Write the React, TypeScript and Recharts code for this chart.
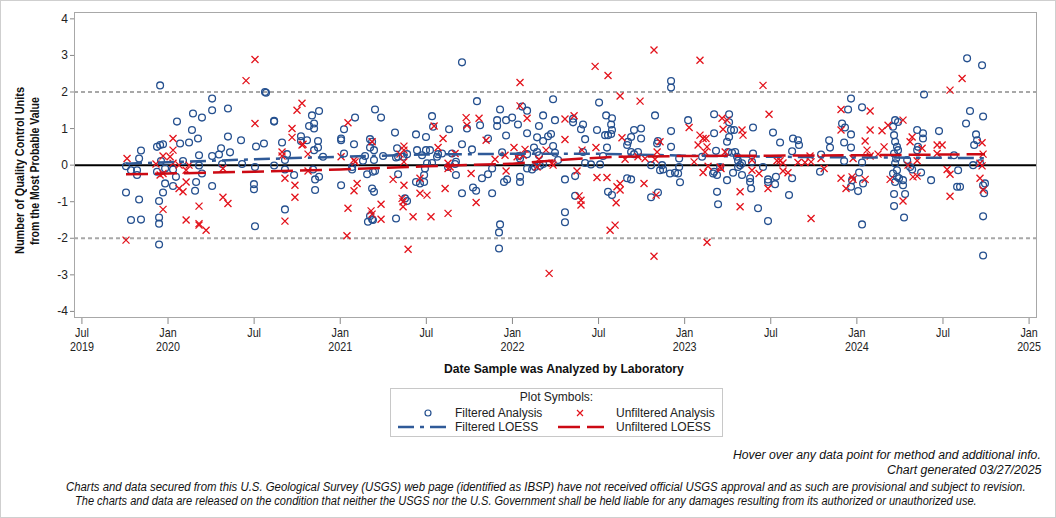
import { useLayoutEffect, useRef, useState } from "react";
import { ScatterChart, Scatter, XAxis, YAxis, ReferenceLine } from "recharts";

// dates are decimal years (Jul 2019 = 2019.5), values are QC units from the MPV
const filteredPoints: [number, number][] = [
  [2019.954,2.18],[2020.563,2.0],[2020.569,1.98],[2020.616,1.21],[2020.616,1.19],[2020.256,1.82],[2020.145,1.41],[2020.197,1.3],[2020.256,1.5],[2020.348,1.55],
  [2020.052,1.19],[2020.139,0.96],[2020.174,0.73],[2020.348,0.78],[2020.424,0.68],[2020.07,0.59],[2020.122,0.62],[2019.936,0.5],[2019.954,0.55],[2019.971,0.57],
  [2019.843,0.4],[2019.832,0.18],[2020.511,0.51],[2020.557,0.59],[2020.308,0.46],[2020.36,0.35],[2020.296,0.29],[2020.256,0.25],[2020.18,0.27],[2020.087,0.11],
  [2019.959,0.11],[2019.756,-0.03],[2019.785,-0.14],[2019.82,-0.14],[2019.82,-0.27],[2019.936,-0.18],[2019.983,-0.09],[2020.029,-0.12],[2020.046,-0.32],[2020.18,-0.01],
  [2020.197,-0.23],[2020.314,0.03],[2020.43,0.03],[2020.505,-0.05],[2020.616,-0.01],[2019.983,-0.5],[2020.029,-0.57],[2020.163,-0.46],[2020.157,-0.7],[2020.256,-0.57],
  [2019.971,-0.75],[2019.756,-0.75],[2019.832,-0.94],[2019.948,-0.98],[2020.499,-0.52],[2020.499,-0.66],[2019.785,-1.5],[2019.843,-1.49],[2019.948,-1.43],[2019.948,-1.6],
  [2020.505,-1.67],[2019.948,-2.17],
  [2020.877,1.48],[2020.836,1.36],[2020.848,1.14],[2020.819,1.07],[2020.848,1.0],[2020.772,0.79],[2020.807,0.68],[2020.772,0.66],[2020.871,0.66],[2020.871,0.48],
  [2020.848,0.41],[2020.662,0.62],[2020.691,0.3],[2020.679,0.14],[2020.679,-0.12],[2020.732,-0.27],[2020.842,-0.12],[2020.854,-0.39],[2020.877,-0.32],[2020.854,-0.68],
  [2020.9,0.23],[2020.679,-1.21],[2021.086,1.3],[2021.022,0.98],[2021.005,0.73],[2021.005,0.68],[2021.202,1.52],[2021.237,1.3],[2021.08,0.57],[2021.022,0.32],
  [2021.005,-0.55],[2021.144,0.25],[2021.132,0.12],[2021.069,-0.05],[2021.069,-0.12],[2021.173,0.71],[2021.185,0.64],[2021.173,0.48],[2021.196,0.41],[2021.196,0.14],
  [2021.156,-0.25],[2021.19,-0.18],[2021.202,-0.16],[2021.185,-0.64],[2021.196,-0.73],[2021.173,-1.39],[2021.185,-1.48],[2021.161,-1.55],[2021.19,-1.5],[2021.249,0.25],
  [2021.318,0.89],[2021.33,0.46],[2021.336,0.23],[2021.324,0.21],[2021.336,-0.25],[2021.365,0.23],[2021.388,0.3],[2021.376,-0.91],[2021.388,-0.98],[2021.324,-1.46],
  [2021.44,0.84],[2021.446,0.41],[2021.475,0.27],[2021.498,0.41],[2021.498,0.77],[2021.533,1.34],[2021.539,1.05],[2021.521,0.41],[2021.562,0.23],[2021.568,0.3],
  [2021.533,0.06],[2021.504,0.05],[2021.492,-0.09],[2021.487,-0.27],[2021.44,-0.46],[2021.463,-0.5],[2021.487,-0.46],[2021.591,0.32],
  [2021.707,2.81],[2021.794,1.75],[2021.632,0.98],[2021.736,1.0],[2021.812,1.09],[2021.707,0.57],[2021.765,0.43],[2021.649,0.32],[2021.672,0.09],[2021.667,0.03],
  [2021.672,-0.27],[2021.626,-0.05],[2021.707,-0.77],[2021.771,-0.61],[2021.789,-0.7],[2021.823,-0.36],[2021.858,-0.25],[2021.858,0.73],[2021.882,-0.09],[2021.882,-0.77],
  [2021.928,1.52],[2021.911,1.23],[2021.911,1.07],[2021.963,1.23],[2021.998,1.3],[2022.032,1.11],[2022.056,1.6],[2022.085,1.49],[2022.085,0.87],[2021.963,0.81],
  [2021.94,0.35],[2021.951,-0.46],[2021.969,-0.39],[2022.044,-0.32],[2022.044,-0.46],[2021.928,-1.62],[2021.922,-1.84],[2021.922,-2.28],[2022.044,0.18],[2022.038,0.25],
  [2022.085,0.3],[2022.085,-0.09],[2022.114,-0.12],[2022.125,0.48],[2022.143,0.36],[2022.154,0.27],[2022.143,0.76],[2022.178,0.66],[2022.154,1.07],[2022.178,1.36],
  [2022.131,-0.05],[2022.16,-0.02],[2022.178,0.03],[2022.207,0.79],[2022.224,0.85],[2022.236,1.8],[2022.247,1.23],[2022.236,0.52],[2022.247,0.34],[2022.265,0.14],
  [2022.305,-0.39],[2022.305,-1.29],[2022.305,-1.56],[2022.352,1.27],[2022.352,1.17],[2022.41,1.11],[2022.398,0.98],[2022.422,0.71],[2022.364,-0.3],[2022.364,-0.84],
  [2022.41,0.36],[2022.422,0.06],[2022.456,0.02],[2022.509,0.02],[2022.503,1.71],[2022.491,0.96],[2022.544,1.36],[2022.538,0.82],[2022.549,0.48],[2022.526,0.25],
  [2022.555,0.82],[2022.555,-0.73],
  [2022.921,2.3],[2022.921,2.12],[2022.828,1.36],[2022.578,1.28],[2022.573,1.11],[2022.578,0.96],[2022.573,0.85],[2022.706,0.96],[2022.747,1.0],[2022.747,0.73],
  [2022.689,0.77],[2022.671,0.64],[2022.666,0.55],[2022.689,0.36],[2022.706,0.3],[2022.729,0.36],[2022.845,0.66],[2022.84,0.59],[2022.921,0.93],[2022.921,0.5],
  [2023.02,1.23],[2022.968,0.18],[2022.968,-0.05],[2022.962,-0.23],[2022.944,-0.21],[2022.915,-0.23],[2022.973,-0.47],[2022.805,0.0],[2022.857,-0.14],[2022.875,-0.12],
  [2022.869,0.0],[2022.666,-0.36],[2022.689,-0.39],[2022.578,-0.82],[2022.805,-0.88],[2022.845,-0.75],[2023.171,1.39],[2023.258,1.39],[2023.171,0.87],[2023.258,1.17],
  [2023.258,0.77],[2023.246,0.64],[2023.252,0.36],[2023.275,0.34],[2023.287,0.96],[2023.269,0.96],[2023.101,0.23],[2023.182,0.39],[2023.165,-0.23],[2023.171,-0.18],
  [2023.188,-0.27],[2023.206,-0.05],[2023.188,-0.73],[2023.194,-1.07],[2023.246,-0.41],[2023.281,-0.21],[2023.31,-0.05],[2023.322,0.0],[2023.333,0.05],[2023.31,0.12],
  [2023.293,0.36],[2023.304,0.23],[2023.333,-0.27],[2023.38,-0.36],[2023.38,-0.46],[2023.386,-0.64],[2023.397,1.03],[2023.397,0.32],[2023.391,0.09],[2023.426,-1.18],
  [2023.455,-0.05],[2023.484,-0.39],[2023.484,-0.46],[2023.484,-1.53],[2023.513,0.89],
  [2023.966,1.82],[2023.949,1.52],[2024.03,1.58],[2024.39,1.93],[2023.914,1.14],[2023.931,1.03],[2023.966,0.84],[2023.926,0.62],[2023.966,0.48],[2023.839,0.68],
  [2023.844,0.48],[2023.629,0.73],[2023.658,0.68],[2023.664,0.55],[2023.554,0.62],[2023.624,0.38],[2023.792,0.29],[2023.926,0.11],[2023.786,-0.18],[2023.53,-0.32],
  [2023.525,-0.52],[2023.624,-0.36],[2023.606,-0.82],[2024.013,-0.2],[2023.972,-0.41],[2023.966,-0.59],[2024.007,-0.71],[2024.036,-0.5],[2024.03,0.07],[2024.03,-1.62],
  [2024.222,1.23],[2024.239,1.18],[2024.21,1.05],[2024.216,0.82],[2024.222,0.64],[2024.233,0.5],[2024.239,0.41],[2024.216,0.32],[2024.228,0.18],[2024.222,0.05],
  [2024.233,-0.14],[2024.21,-0.23],[2024.233,-0.32],[2024.222,-0.46],[2024.245,-0.36],[2024.268,-0.41],[2024.268,-0.55],[2024.216,-0.79],[2024.28,-0.79],[2024.216,-1.12],
  [2024.274,-1.43],[2024.35,0.96],[2024.384,0.87],[2024.384,0.73],[2024.355,0.5],[2024.35,0.41],[2024.292,0.14],[2024.309,-0.05],[2024.321,-0.12],[2024.373,-0.2],
  [2024.431,-0.41],[2024.477,0.93],
  [2024.64,2.92],[2024.727,2.73],[2024.657,1.48],[2024.733,1.33],[2024.634,1.14],[2024.692,0.84],[2024.698,0.68],[2024.681,0.55],[2024.564,0.27],[2024.675,0.0],
  [2024.715,0.05],[2024.588,-0.14],[2024.582,-0.59],[2024.599,-0.59],[2024.733,-0.55],[2024.744,-0.5],[2024.739,-0.77],[2024.733,-1.4],[2024.733,-2.47],
];

const unfilteredPoints: [number, number][] = [
  [2020.505,2.89],[2020.453,2.31],[2020.505,1.14],[2020.029,0.73],[2020.029,0.41],[2019.971,0.25],[2020.012,0.23],[2019.762,0.18],[2019.93,0.03],[2020.029,0.05],
  [2020.064,0.0],[2020.122,0.0],[2019.971,-0.23],[2019.954,-0.27],[2020.105,-0.14],[2020.105,-0.46],[2020.064,-0.64],[2020.087,-0.73],[2019.971,-1.21],[2020.18,-1.12],
  [2020.105,-1.5],[2020.18,-1.6],[2020.18,-1.64],[2020.221,-1.78],[2020.319,-0.88],[2020.348,-1.05],[2020.319,-0.09],[2019.756,-2.05],
  [2020.778,1.69],[2020.749,1.5],[2020.72,1.0],[2020.72,0.76],[2020.778,0.55],[2020.784,0.57],[2020.662,0.36],[2020.662,0.25],[2020.813,0.3],[2020.813,-0.16],
  [2020.679,-0.36],[2020.737,-0.55],[2020.737,-0.88],[2020.679,-1.53],[2021.045,1.16],[2021.005,0.23],[2021.08,0.14],[2021.086,0.09],[2021.098,-0.5],[2021.08,-0.7],
  [2021.045,-1.18],[2021.039,-1.93],[2021.185,0.64],[2021.179,-1.25],[2021.185,-1.34],[2021.237,-1.07],[2021.237,-1.48],[2021.307,-0.39],[2021.37,0.52],[2021.37,0.41],
  [2021.347,0.3],[2021.37,0.09],[2021.37,-0.55],[2021.359,-0.91],[2021.365,-1.14],[2021.365,-1.0],[2021.394,-2.3],[2021.423,-1.41],[2021.463,-0.36],[2021.463,-0.77],
  [2021.504,-0.82],[2021.527,-1.41],[2021.545,1.07],[2021.568,0.48],[2021.597,0.73],[2021.609,-0.64],
  [2022.48,2.7],[2022.555,2.45],[2022.044,2.26],[2022.044,1.62],[2022.085,1.28],[2021.731,1.3],[2021.736,1.09],[2021.806,1.28],[2021.847,0.68],[2022.305,1.26],
  [2022.358,1.35],[2022.305,0.7],[2021.626,0.05],[2021.638,-0.05],[2021.626,-0.09],[2021.667,0.32],[2021.76,-0.23],[2021.789,-1.02],[2021.626,-1.32],[2021.899,0.16],
  [2021.957,0.27],[2021.963,-0.16],[2022.009,0.48],[2022.073,0.43],[2022.062,0.27],[2022.027,0.23],[2022.154,0.16],[2022.195,0.41],[2022.23,0.05],[2022.236,0.0],
  [2022.143,-0.05],[2022.375,-0.16],[2022.387,-0.84],[2022.398,-0.96],[2022.398,-1.09],[2022.404,0.41],[2022.485,0.48],[2022.491,-0.34],[2022.549,-0.34],[2022.213,-2.96],
  [2022.567,-1.78],
  [2022.822,3.15],[2023.089,2.87],[2022.625,1.89],[2022.741,1.75],[2023.455,2.18],[2023.49,1.39],[2023.026,1.03],[2023.217,1.28],[2023.246,1.23],[2023.223,0.98],
  [2023.333,0.96],[2023.339,0.82],[2022.636,0.75],[2022.857,0.64],[2022.84,0.36],[2023.089,0.82],[2023.107,0.73],[2023.124,0.73],[2023.078,0.55],[2023.13,0.5],
  [2023.118,0.36],[2023.235,0.36],[2022.654,0.16],[2022.729,0.23],[2022.77,0.18],[2022.828,0.16],[2023.055,0.09],[2023.136,-0.03],[2023.206,-0.05],[2023.211,-0.09],
  [2023.107,-0.2],[2023.391,0.14],[2023.391,-0.14],[2023.432,-0.23],[2022.764,-0.5],[2022.625,-0.5],[2022.607,-0.59],[2022.625,-0.68],[2022.834,-0.82],[2022.602,-1.03],
  [2023.322,-0.73],[2023.322,-1.14],[2023.484,-0.64],[2022.596,-1.64],[2023.13,-2.11],[2022.822,-2.49],
  [2023.908,1.52],[2024.077,1.48],[2023.908,0.96],[2024.077,0.96],[2024.146,0.94],[2024.181,1.09],[2024.268,1.23],[2024.048,0.66],[2024.059,0.41],[2024.158,0.5],
  [2024.123,0.3],[2024.077,0.25],[2023.978,0.18],[2024.321,0.77],[2024.309,0.64],[2024.379,0.46],[2024.466,0.55],[2023.554,0.12],[2023.571,0.06],[2023.536,0.12],
  [2023.658,0.07],[2023.699,0.07],[2023.734,0.09],[2023.728,0.25],[2023.792,0.18],[2023.81,-0.09],[2023.571,-0.16],[2023.6,-0.21],[2023.908,-0.36],[2023.972,-0.32],
  [2023.937,-0.64],[2023.978,-0.39],[2024.048,-0.39],[2024.193,-0.39],[2024.297,0.0],[2024.35,0.12],[2024.326,-0.32],[2024.35,-0.3],[2024.268,-0.98],[2023.734,-1.46],
  [2024.611,2.37],[2024.541,2.05],[2024.495,0.55],[2024.466,0.32],[2024.727,0.61],[2024.733,0.3],[2024.715,0.05],[2024.727,-0.02],[2024.524,-0.12],[2024.541,-0.25],
  [2024.715,-0.36],[2024.733,-0.68],[2024.541,-0.85],
];

const filteredLoess: [number, number][] = [
  [2019.756,0.04],[2020.0,0.08],[2020.5,0.16],[2021.0,0.23],[2021.5,0.29],[2022.0,0.31],[2022.5,0.31],[2023.0,0.26],[2023.5,0.23],[2024.0,0.21],[2024.5,0.2],[2024.744,0.19],
];
const unfilteredLoess: [number, number][] = [
  [2019.756,-0.25],[2020.0,-0.23],[2020.5,-0.18],[2021.0,-0.12],[2021.5,-0.03],[2022.0,0.04],[2022.3,0.15],[2022.6,0.23],[2023.0,0.25],[2023.5,0.26],[2024.0,0.27],[2024.5,0.29],[2024.744,0.3],
];

const xTicks = [2019.5, 2020, 2020.5, 2021, 2021.5, 2022, 2022.5, 2023, 2023.5, 2024, 2024.5, 2025];
const yTicks = [-4, -3, -2, -1, 0, 1, 2, 3, 4];

const BLUE = "#25508f";
const RED = "#e3121b";
const BLUE_LINE = "#2f5a98";
const RED_LINE = "#cc0a14";
const SANS = '"Liberation Sans", Arial, sans-serif';

const toXY = (pts: [number, number][]) => pts.map(([x, y]) => ({ x, y }));

function Circle(p: any) {
  return <circle cx={p.cx} cy={p.cy} r={3.4} fill="none" stroke={BLUE} strokeWidth={1.3} />;
}
function Cross(p: any) {
  const s = 3.5;
  return (
    <path
      d={`M${p.cx - s},${p.cy - s}L${p.cx + s},${p.cy + s}M${p.cx - s},${p.cy + s}L${p.cx + s},${p.cy - s}`}
      stroke={RED}
      strokeWidth={1.3}
      fill="none"
    />
  );
}
const NoDot = () => <g />;

function XTick({ x, y, payload, index }: any) {
  const v = payload.value as number;
  const yr = Math.floor(v);
  const isJul = v - yr > 0.25;
  const showYear = !isJul || index === 0;
  return (
    <g transform={`translate(${x},${y}) scale(0.86,1)`} fontFamily={SANS} fontSize={12.5} fill="#222">
      <text x={0} y={11} textAnchor="middle">{isJul ? "Jul" : "Jan"}</text>
      {showYear && <text x={0} y={25} textAnchor="middle">{yr}</text>}
    </g>
  );
}

function YTick({ x, y, payload }: any) {
  return (
    <text x={x} y={y + 4} textAnchor="end" fontFamily={SANS} fontSize={12} fill="#222">
      {payload.value}
    </text>
  );
}

// squeezes a line of text horizontally so it spans `width` px (narrow font look)
function FitText({ left, top, width, children, style }: any) {
  const ref = useRef<HTMLSpanElement>(null);
  const [k, setK] = useState(1);
  useLayoutEffect(() => {
    if (ref.current) setK(width / ref.current.offsetWidth);
  }, [width]);
  return (
    <div style={{ position: "absolute", left, top, whiteSpace: "nowrap", lineHeight: "15px", ...style }}>
      <span ref={ref} style={{ display: "inline-block", transform: `scaleX(${k})`, transformOrigin: "0 0" }}>
        {children}
      </span>
    </div>
  );
}

export default function App() {
  const foot = { fontFamily: SANS, fontStyle: "italic", fontSize: 12.5, color: "#111" };
  const bold = { fontFamily: SANS, fontWeight: "bold", fontSize: 12.5, color: "#111" };
  return (
    <div style={{ position: "absolute", left: 0, top: 0, width: 1056, height: 518, background: "#fff", fontFamily: SANS }}>
      <ScatterChart width={1056} height={380} margin={{ top: 13, right: 19, bottom: 12, left: 44 }}>
        <XAxis
          type="number"
          dataKey="x"
          domain={[2019.454, 2025.046]}
          ticks={xTicks}
          tick={<XTick />}
          axisLine={false}
          tickLine={{ stroke: "#888" }}
          tickSize={6}
          height={50}
          interval={0}
        />
        <YAxis
          type="number"
          dataKey="y"
          domain={[-4.18, 4.16]}
          ticks={yTicks}
          axisLine={false}
          tickLine={{ stroke: "#888" }}
          tickSize={4}
          width={30}
          tick={<YTick />}
          interval={0}
        />
        <ReferenceLine y={2} stroke="#a8a8a8" strokeWidth={2} strokeDasharray="4 3" />
        <ReferenceLine y={-2} stroke="#a8a8a8" strokeWidth={2} strokeDasharray="4 3" />
        <ReferenceLine y={0} stroke="#000" strokeWidth={2} />
        <Scatter data={toXY(filteredPoints)} shape={Circle} isAnimationActive={false} />
        <Scatter data={toXY(unfilteredPoints)} shape={Cross} isAnimationActive={false} />
        <Scatter
          data={toXY(filteredLoess)}
          shape={NoDot}
          line={{ stroke: BLUE_LINE, strokeWidth: 2.5, strokeDasharray: "16 6 4 6" }}
          lineType="joint"
          isAnimationActive={false}
        />
        <Scatter
          data={toXY(unfilteredLoess)}
          shape={NoDot}
          line={{ stroke: RED_LINE, strokeWidth: 2.5, strokeDasharray: "22 7" }}
          lineType="joint"
          isAnimationActive={false}
        />
      </ScatterChart>

      {/* plot frame */}
      <div style={{ position: "absolute", left: 74, top: 12, width: 963, height: 306, border: "1px solid #a8a8a8", boxSizing: "border-box", pointerEvents: "none" }} />

      {/* y axis title, rotated */}
      <div style={{ position: "absolute", left: 29 - 130, top: 171 - 16, width: 260, height: 32, transform: "rotate(-90deg)" }}>
        <FitText left={(260 - 167) / 2} top={0} width={167} style={bold}>Number of Quality Control Units</FitText>
        <FitText left={(260 - 148) / 2} top={15} width={148} style={bold}>from the Most Probable Value</FitText>
      </div>

      {/* x axis title */}
      <FitText left={444} top={362} width={240} style={bold}>Date Sample was Analyzed by Laboratory</FitText>

      {/* legend */}
      <div style={{ position: "absolute", left: 390, top: 388, width: 333, height: 49, border: "1px solid #c8c8c8", boxSizing: "border-box", fontSize: 12, color: "#222" }}>
        <div style={{ position: "absolute", left: 0, width: 331, top: 1, textAlign: "center" }}>Plot Symbols:</div>
        <svg style={{ position: "absolute", left: 0, top: 0 }} width={331} height={47}>
          <circle cx={37} cy={24} r={3} fill="none" stroke={BLUE} strokeWidth={1.2} />
          <path d="M186,21L192,27M186,27L192,21" stroke={RED} strokeWidth={1.2} />
          <line x1={7} y1={38} x2={55} y2={38} stroke={BLUE_LINE} strokeWidth={2.5} strokeDasharray="16 6 4 6" />
          <line x1={167} y1={38} x2={213} y2={38} stroke={RED_LINE} strokeWidth={2.5} strokeDasharray="22 7" />
        </svg>
        <div style={{ position: "absolute", left: 64, top: 17 }}>Filtered Analysis</div>
        <div style={{ position: "absolute", left: 225, top: 17 }}>Unfiltered Analysis</div>
        <div style={{ position: "absolute", left: 64, top: 31 }}>Filtered LOESS</div>
        <div style={{ position: "absolute", left: 225, top: 31 }}>Unfiltered LOESS</div>
      </div>

      {/* footer */}
      <FitText left={733} top={448} width={308} style={foot}>Hover over any data point for method and additional info.</FitText>
      <FitText left={887} top={463} width={154} style={foot}>Chart generated 03/27/2025</FitText>
      <FitText left={66} top={480} width={960} style={{ ...foot, fontSize: 12 }}>
        Charts and data secured from this U.S. Geological Survey (USGS) web page (identified as IBSP) have not received official USGS approval and as such are provisional and subject to revision.
      </FitText>
      <FitText left={75} top={494} width={902} style={{ ...foot, fontSize: 12 }}>
        The charts and data are released on the condition that neither the USGS nor the U.S. Government shall be held liable for any damages resulting from its authorized or unauthorized use.
      </FitText>

      {/* outer border */}
      <div style={{ position: "absolute", left: 0, top: 0, width: 1056, height: 518, border: "1px solid #cfcfcf", boxSizing: "border-box", pointerEvents: "none" }} />
    </div>
  );
}
